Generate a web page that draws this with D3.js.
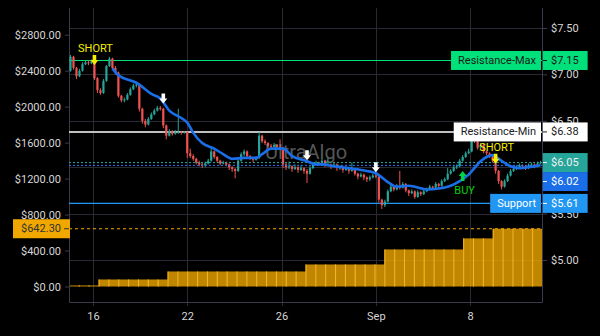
<!DOCTYPE html>
<html><head><meta charset="utf-8">
<script src="https://cdn.jsdelivr.net/npm/d3@7"></script>
<style>html,body{margin:0;padding:0;background:#000;}svg{display:block;font-family:Roboto,"Noto Sans",sans-serif;}</style>
</head><body><svg id="c" width="600" height="336"></svg>
<script>
// ---------- data ----------
const firstOpen = 7.04;
const closes = [
7.19,7.07,6.98,7.04,7.11,7.13,7.12,7.14,6.96,6.83,
6.80,6.93,7.09,7.17,7.07,7.02,6.77,6.72,6.73,6.78,
6.84,6.88,6.89,6.63,6.50,6.46,6.52,6.57,6.61,6.64,
6.63,6.45,6.34,6.39,6.36,6.38,6.38,6.37,6.38,6.15,
6.12,6.09,6.05,6.03,6.02,6.04,6.07,6.17,6.11,6.07,
6.04,6.05,6.03,6.00,5.98,5.96,6.07,6.14,6.17,6.12,
6.10,6.08,6.10,6.34,6.28,6.26,6.23,6.22,6.24,6.22,
6.21,6.03,6.00,6.01,5.98,6.00,5.97,5.99,5.96,5.93,
5.99,6.03,6.05,6.04,6.07,6.02,6.03,6.01,6.03,5.99,
6.00,5.97,5.99,5.96,5.98,5.93,5.90,5.92,5.89,5.87,
5.89,5.91,5.90,5.65,5.59,5.63,5.74,5.79,5.76,5.80,
5.78,5.82,5.75,5.72,5.74,5.68,5.73,5.71,5.74,5.76,
5.79,5.78,5.82,5.80,5.85,5.87,5.93,5.96,6.00,6.01,
6.07,6.11,6.15,6.17,6.30,6.28,6.21,6.24,6.17,6.15,
6.12,6.07,5.96,5.85,5.79,5.85,5.91,5.96,5.98,6.00,
6.02,6.01,5.99,6.02,6.03,6.01,6.04,6.05];
const highs = [
7.21,7.20,7.08,7.06,7.13,7.15,7.15,7.16,7.15,6.97,
6.85,6.95,7.10,7.19,7.18,7.09,7.03,6.78,6.75,6.80,
6.86,6.90,6.91,6.90,6.64,6.52,6.54,6.59,6.63,6.66,
6.66,6.64,6.46,6.41,6.40,6.40,6.63,6.39,6.39,6.39,
6.20,6.14,6.10,6.07,6.05,6.06,6.09,6.21,6.18,6.12,
6.08,6.07,6.06,6.04,6.01,5.99,6.09,6.16,6.19,6.18,
6.13,6.11,6.12,6.38,6.35,6.30,6.27,6.25,6.26,6.25,
6.30,6.22,6.05,6.06,6.02,6.03,6.01,6.02,6.00,5.98,
6.01,6.05,6.07,6.06,6.09,6.08,6.10,6.04,6.05,6.04,
6.02,6.01,6.01,6.00,6.05,5.99,5.94,5.94,5.93,5.90,
5.91,5.93,5.93,5.91,5.66,5.65,5.76,5.81,5.80,5.82,
5.96,5.84,5.83,5.76,5.76,5.75,5.75,5.74,5.76,5.78,
5.81,5.80,5.84,5.83,5.87,5.89,5.99,5.98,6.02,6.03,
6.09,6.13,6.17,6.20,6.36,6.33,6.29,6.26,6.25,6.18,
6.16,6.13,6.08,5.97,5.86,5.87,5.93,5.98,6.00,6.02,
6.04,6.03,6.02,6.04,6.05,6.04,6.06,6.07];
const lows = [
7.03,7.05,6.95,6.97,7.03,7.10,7.10,7.11,6.94,6.80,
6.78,6.79,6.92,7.08,7.05,7.00,6.75,6.70,6.70,6.72,
6.77,6.83,6.86,6.60,6.47,6.43,6.45,6.51,6.56,6.60,
6.61,6.42,6.30,6.33,6.34,6.35,6.36,6.35,6.36,6.10,
6.10,6.07,6.03,6.01,5.99,6.00,6.03,6.06,6.09,6.05,
6.02,6.03,6.01,5.97,5.95,5.88,5.95,6.06,6.12,6.10,
6.08,6.05,6.07,6.09,6.26,6.24,6.21,6.20,6.21,6.20,
6.19,5.99,5.97,5.98,5.95,5.97,5.94,5.96,5.93,5.83,
5.92,5.98,6.02,6.02,6.03,6.00,6.01,5.98,6.00,5.96,
5.97,5.94,5.96,5.93,5.95,5.91,5.87,5.89,5.86,5.84,
5.85,5.88,5.88,5.62,5.55,5.57,5.62,5.73,5.74,5.75,
5.76,5.77,5.73,5.69,5.71,5.66,5.67,5.69,5.70,5.73,
5.75,5.76,5.77,5.78,5.79,5.84,5.86,5.92,5.95,5.98,
6.00,6.06,6.10,6.14,6.16,6.26,6.19,6.20,6.15,6.13,
6.10,6.05,5.93,5.82,5.76,5.78,5.84,5.90,5.95,5.97,
5.99,5.99,5.97,5.98,6.01,5.99,6.00,6.03];
const emaIdx = [14,16,20,22,27,30,33,37,39,41,44,48,51,54,58,62,64,67,71,74,79,82,84,88,93,99,102,106,109,113,119,123,127,130,133,137,141,143,147,150,157];
const emaVal = [7.065,6.99,6.935,6.91,6.79,6.74,6.61,6.53,6.48,6.37,6.26,6.20,6.14,6.09,6.10,6.10,6.14,6.20,6.20,6.12,6.065,6.03,6.03,6.01,5.99,5.96,5.935,5.84,5.79,5.80,5.76,5.77,5.80,5.85,5.92,6.065,6.13,6.09,6.01,5.99,6.02];
const cumBars = [12,12,12,78,78,78,78,78,78,78,167,167,167,167,167,167,167,167,167,167,167,167,167,167,245,245,245,245,245,245,245,245,412,412,412,412,412,412,412,412,535,535,535,642.30,642.30,642.30,642.30,642.30];
const levelNames = ["Resistance-Max","Resistance-Min","Support"];
const levelValues = [7.15,6.38,5.61];
const sigIdx = [8,31,79,102,131,142];
const sigPrice = [7.155,6.74,6.13,6.00,5.905,6.09];
const sigType = ["SHORT","exit","exit","exit","BUY","SHORT"];
const xTickIdx = [8,39.5,71,102.5,134];
const xTickLabels = ["16","22","26","Sep","8"];
const leftTicks = [0,400,800,1200,1600,2000,2400,2800];
const rightTicks = [5.0,5.5,6.0,6.5,7.0,7.5];
const watermark = "UltraAlgo";

// ---------- layout ----------
const L=69,R=542,T=8,B=302;
const svg=d3.select("#c");
svg.append("rect").attr("width",600).attr("height",336).attr("fill","#000");
const N=closes.length;
const x=d3.scaleLinear().domain([0,N]).range([L,R]);
const yR=d3.scaleLinear().domain([5,7.5]).range([260,28]);
const yL=d3.scaleLinear().domain([0,2800]).range([286.5,34.7]);
const xb=d3.scaleBand().domain(d3.range(cumBars.length)).range([L,R]);
const GRID="#2a2a35", AXIS="#3a3a4c", TXT="#d6d6d6";
const money2=v=>"$"+d3.format(".2f")(v);

// grid
svg.append("g").selectAll("line").data(rightTicks).join("line")
 .attr("x1",L).attr("x2",R).attr("y1",d=>Math.round(yR(d))+0.5).attr("y2",d=>Math.round(yR(d))+0.5)
 .attr("stroke",GRID);
svg.append("g").selectAll("line").data(xTickIdx).join("line")
 .attr("x1",d=>Math.round(x(d))+0.5).attr("x2",d=>Math.round(x(d))+0.5).attr("y1",T).attr("y2",B+4)
 .attr("stroke",GRID);

// cumulative bars
const gb=svg.append("g");
gb.selectAll("rect").data(cumBars).join("rect")
 .attr("x",(d,i)=>xb(i)).attr("width",xb.bandwidth()+0.3)
 .attr("y",d=>yL(d)).attr("height",d=>yL(0)-yL(d))
 .attr("fill","#f0a800").attr("fill-opacity",0.8);
gb.selectAll("line").data(cumBars).join("line")
 .attr("x1",(d,i)=>xb(i)+0.5).attr("x2",(d,i)=>xb(i)+0.5)
 .attr("y1",d=>yL(d)).attr("y2",yL(0)).attr("stroke","#f7b52a").attr("stroke-width",1)
 .attr("display",(d,i)=>i===0?"none":null);
svg.append("line").attr("x1",L).attr("x2",R)
 .attr("y1",yL(cumBars[cumBars.length-1])).attr("y2",yL(cumBars[cumBars.length-1]))
 .attr("stroke","#f0a800").attr("stroke-dasharray","3,3");

// frame
svg.append("path").attr("d",`M${L+0.5},${T}V${B+0.5}H${R+0.5}V${T}`).attr("fill","none").attr("stroke",AXIS);

// level lines
const levelColor=["#00e676","#ffffff","#2196f3"];
svg.append("g").selectAll("line").data(levelValues).join("line")
 .attr("x1",L).attr("x2",R).attr("y1",d=>yR(d)).attr("y2",d=>yR(d))
 .attr("stroke",(d,i)=>levelColor[i]).attr("stroke-width",(d,i)=>i===1?1.4:1.1);

// candles
const cd=closes.map((c,i)=>({i,o:i===0?firstOpen:closes[i-1],c,h:highs[i],l:lows[i]}));
const gc=svg.append("g");
gc.selectAll("line").data(cd).join("line")
 .attr("x1",d=>x(d.i+0.5)).attr("x2",d=>x(d.i+0.5))
 .attr("y1",d=>yR(d.h)).attr("y2",d=>yR(d.l))
 .attr("stroke",d=>d.c>=d.o?"#26a69a":"#ef5350").attr("stroke-width",1);
gc.selectAll("rect").data(cd).join("rect")
 .attr("x",d=>x(d.i+0.5)-1.1).attr("width",2.2)
 .attr("y",d=>yR(Math.max(d.o,d.c))).attr("height",d=>Math.max(1,Math.abs(yR(d.o)-yR(d.c))))
 .attr("fill",d=>d.c>=d.o?"#26a69a":"#ef5350");

// watermark (semi-transparent, over candles)
svg.append("text").attr("x",306).attr("y",159).attr("text-anchor","middle")
 .attr("font-size",20).attr("fill","#a0a0a0").attr("fill-opacity",0.55).text(watermark);

// last price / ema dashed lines
const lastC=closes[N-1], lastE=emaVal[emaVal.length-1];
svg.append("line").attr("x1",L).attr("x2",R).attr("y1",yR(lastC)).attr("y2",yR(lastC))
 .attr("stroke","#26a69a").attr("stroke-dasharray","2,2");
svg.append("line").attr("x1",L).attr("x2",R).attr("y1",yR(lastE)).attr("y2",yR(lastE))
 .attr("stroke","#2979ff").attr("stroke-dasharray","2,2");

// EMA
const ed=emaIdx.map((k,j)=>({k,v:emaVal[j]}));
svg.append("path").datum(ed)
 .attr("d",d3.line().x(d=>x(d.k+0.5)).y(d=>yR(d.v)).curve(d3.curveMonotoneX))
 .attr("fill","none").attr("stroke","#1a6ee8").attr("stroke-width",2.6).attr("stroke-linejoin","round");

// signals
const gs=svg.append("g");
sigIdx.forEach((k,j)=>{
  const cx=x(k+0.5), cy=yR(sigPrice[j]), t=sigType[j];
  const down="M-1.8,-5H1.8V0H4L0,5L-4,0H-1.8Z";
  const up="M-1.8,5H1.8V0H4L0,-5L-4,0H-1.8Z";
  const col=t==="SHORT"?"#f5ee00":(t==="BUY"?"#00d44a":"#ffffff");
  gs.append("path").attr("d",t==="BUY"?up:down).attr("transform",`translate(${cx},${cy})`).attr("fill",col);
  if(t==="SHORT") gs.append("text").attr("x",cx+1).attr("y",cy-8).attr("text-anchor","middle")
     .attr("font-size",11).attr("fill","#f5ee00").text(t);
  if(t==="BUY") gs.append("text").attr("x",cx+2).attr("y",cy+18).attr("text-anchor","middle")
     .attr("font-size",11).attr("fill","#00d400").text(t);
});

// axes
const gl=svg.append("g").attr("transform",`translate(${L},0)`)
 .call(d3.axisLeft(yL).tickValues(leftTicks).tickFormat(money2).tickSize(4).tickPadding(4));
const gr=svg.append("g").attr("transform",`translate(${R},0)`)
 .call(d3.axisRight(yR).tickValues(rightTicks).tickFormat(money2).tickSize(5).tickPadding(4));
const gx=svg.append("g").attr("transform",`translate(0,${B})`)
 .call(d3.axisBottom(x).tickValues(xTickIdx).tickFormat((d,i)=>xTickLabels[i]).tickSize(0).tickPadding(10));
[gl,gr,gx].forEach(g=>{
  g.select(".domain").remove();
  g.selectAll(".tick line").attr("stroke",AXIS);
  g.selectAll("text").attr("fill",TXT).attr("font-size",11).attr("font-family","Roboto,'Noto Sans',sans-serif");
});

// tags
const FS=11, TH=19;
function measure(s){const t=svg.append("text").attr("font-size",FS).text(s);const w=t.node().getComputedTextLength();t.remove();return w;}
function priceTag(y,text,fill,color){
  const w=measure(text);
  svg.append("rect").attr("x",R+0.8).attr("y",y-TH/2).attr("width",551+w+9-(R+0.8)).attr("height",TH).attr("fill",fill);
  svg.append("line").attr("x1",R+1).attr("x2",R+5).attr("y1",y).attr("y2",y).attr("stroke",color);
  svg.append("text").attr("x",551).attr("y",y).attr("dominant-baseline","central").attr("font-size",FS).attr("fill",color).text(text);
}
function nameTag(y,text,fill,color){
  const w=measure(text);
  const x1=R-1, x0=x1-w-12;
  svg.append("rect").attr("x",x0).attr("y",y-TH/2).attr("width",x1-x0).attr("height",TH).attr("fill",fill);
  svg.append("text").attr("x",(x0+x1)/2+1).attr("y",y).attr("text-anchor","middle").attr("dominant-baseline","central").attr("font-size",FS).attr("fill",color).text(text);
}
const tagFill=["#00e07a","#ffffff","#2196f3"], tagText=["#1a1a1a","#1a1a1a","#ffffff"];
levelValues.forEach((v,i)=>{nameTag(yR(v),levelNames[i],tagFill[i],tagText[i]);priceTag(yR(v),money2(v),tagFill[i],tagText[i]);});
const yc=yR(lastC), ye=Math.max(yR(lastE), yc+TH);
priceTag(yc,money2(lastC),"#26a69a","#f0f0f0");
priceTag(ye,money2(lastE),"#1a6ee8","#ffffff");

// left cumulative tag
(function(){
  const v=cumBars[cumBars.length-1], s=money2(v), w=measure(s), y=yL(v);
  svg.append("rect").attr("x",61-w-8).attr("y",y-TH/2).attr("width",L+1-(61-w-8)).attr("height",TH).attr("fill","#f0a800");
  svg.append("line").attr("x1",64).attr("x2",L).attr("y1",y).attr("y2",y).attr("stroke","#333");
  svg.append("text").attr("x",61).attr("y",y).attr("text-anchor","end").attr("dominant-baseline","central").attr("font-size",FS).attr("fill","#333").text(s);
})();
</script></body></html>
